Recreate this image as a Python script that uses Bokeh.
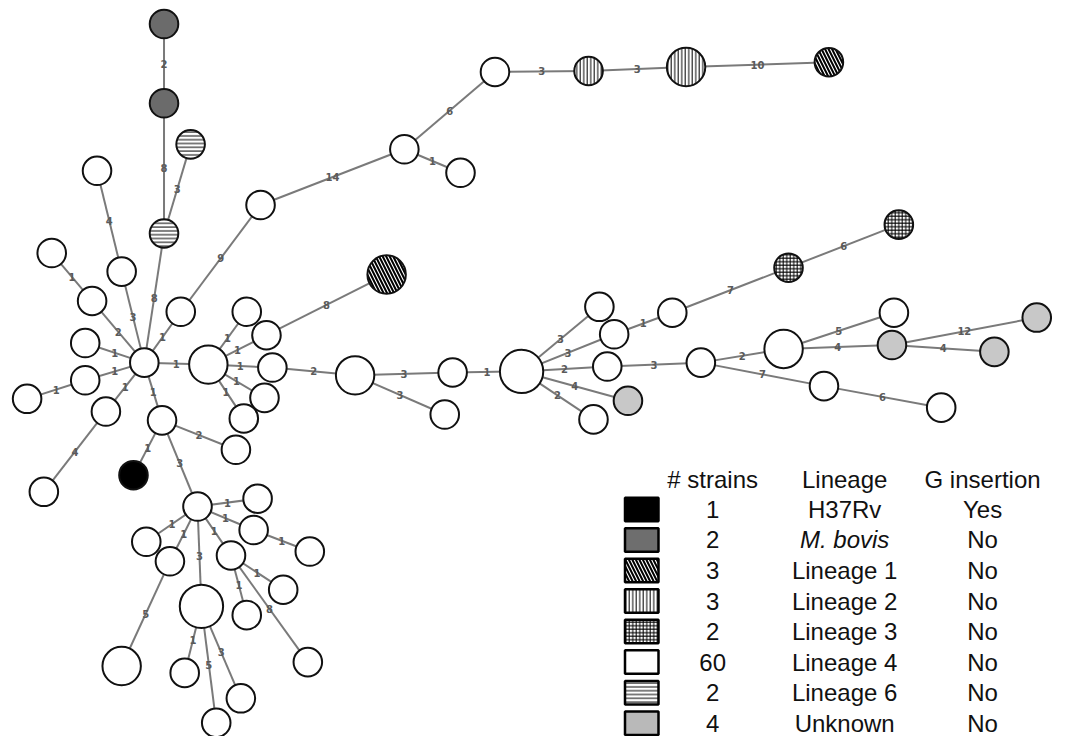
from bokeh.plotting import figure
from bokeh.models import Range1d, ColumnDataSource
from bokeh.core.properties import value
from bokeh.embed import file_html
from bokeh.resources import INLINE

# ---------------- data ----------------
node_names = ["bov1", "bov2", "l6a", "l6b", "hub", "a1", "a2", "b1", "b2", "d",
              "e1", "e2", "g1", "g2", "j", "k", "l", "m", "n", "o",
              "p", "q", "r", "s", "t", "v", "w1", "w2", "w3", "w4",
              "w5", "x", "y", "z", "aa", "bb", "cc", "dd", "ee", "ff",
              "gg", "hh", "ii", "jj", "kk", "ll", "mm", "nn", "oo", "pp",
              "qq", "rr", "u", "u1", "u2", "u3", "u4", "u5", "u6", "u7",
              "u8", "u9", "u10", "u11", "u12", "u13", "u14"]
node_x = [166, 166, 193, 166, 146, 98, 123, 52, 93, 86,
          86, 27, 107, 44, 183, 264, 410, 467, 502, 597,
          696, 841, 164, 239, 135, 211, 250, 270, 276, 268,
          247, 392, 360, 459, 451, 529, 608, 623, 616, 637,
          602, 682, 800, 912, 711, 795, 836, 955, 907, 905,
          1052, 1009, 200, 261, 257, 314, 148, 172, 204, 234,
          123, 187, 219, 244, 287, 250, 312]
node_y = [24, 105, 147, 238, 370, 174, 277, 258, 307, 350,
          388, 407, 420, 502, 318, 209, 152, 176, 73, 72,
          68, 63, 429, 459, 485, 372, 318, 342, 375, 406,
          427, 280, 383, 380, 423, 379, 313, 341, 374, 409,
          428, 319, 273, 229, 370, 356, 394, 416, 319, 352,
          324, 359, 517, 509, 541, 563, 553, 573, 619, 567,
          680, 687, 738, 713, 602, 628, 676]
node_strains = [1, 1, 1, 1, 1, 1, 1, 1, 1, 1,
                1, 1, 1, 1, 1, 1, 1, 1, 1, 1,
                2, 1, 1, 1, 1, 2, 1, 1, 1, 1,
                1, 2, 2, 1, 1, 3, 1, 1, 1, 1,
                1, 1, 1, 1, 1, 2, 1, 1, 1, 1,
                1, 1, 1, 1, 1, 1, 1, 1, 3, 1,
                2, 1, 1, 1, 1, 1, 1]
node_lineage = ["M. bovis", "M. bovis", "Lineage 6", "Lineage 6", "Lineage 4",
                "Lineage 4", "Lineage 4", "Lineage 4", "Lineage 4", "Lineage 4",
                "Lineage 4", "Lineage 4", "Lineage 4", "Lineage 4", "Lineage 4",
                "Lineage 4", "Lineage 4", "Lineage 4", "Lineage 4", "Lineage 2",
                "Lineage 2", "Lineage 1", "Lineage 4", "Lineage 4", "H37Rv",
                "Lineage 4", "Lineage 4", "Lineage 4", "Lineage 4", "Lineage 4",
                "Lineage 4", "Lineage 1", "Lineage 4", "Lineage 4", "Lineage 4",
                "Lineage 4", "Lineage 4", "Lineage 4", "Lineage 4", "Unknown",
                "Lineage 4", "Lineage 4", "Lineage 3", "Lineage 3", "Lineage 4",
                "Lineage 4", "Lineage 4", "Lineage 4", "Lineage 4", "Unknown",
                "Unknown", "Unknown", "Lineage 4", "Lineage 4", "Lineage 4",
                "Lineage 4", "Lineage 4", "Lineage 4", "Lineage 4", "Lineage 4",
                "Lineage 4", "Lineage 4", "Lineage 4", "Lineage 4", "Lineage 4",
                "Lineage 4", "Lineage 4"]

edge_from = ["bov1", "bov2", "l6a", "l6b", "a1", "a2", "b1", "b2", "d", "e1",
             "e2", "g1", "g2", "j", "j", "k", "l", "l", "n", "o",
             "p", "hub", "r", "r", "r", "hub", "v", "v", "v", "v",
             "v", "w2", "w3", "y", "y", "z", "bb", "bb", "bb", "bb",
             "bb", "dd", "hh", "ii", "ee", "kk", "kk", "mm", "ll", "ll",
             "pp", "pp", "u", "u", "u2", "u", "u", "u", "u", "u5",
             "u6", "u6", "u6", "u7", "u7", "u7"]
edge_to = ["bov2", "l6b", "l6b", "hub", "a2", "hub", "b2", "hub", "hub", "hub",
           "e1", "hub", "g1", "hub", "k", "l", "m", "n", "o", "p",
           "q", "r", "s", "t", "u", "v", "w1", "w2", "w3", "w4",
           "w5", "x", "y", "z", "aa", "bb", "cc", "dd", "ee", "ff",
           "gg", "hh", "ii", "jj", "kk", "ll", "mm", "nn", "oo", "pp",
           "qq", "rr", "u1", "u2", "u3", "u4", "u5", "u6", "u7", "u8",
           "u9", "u10", "u11", "u12", "u13", "u14"]
edge_dist = [2, 8, 3, 8, 4, 3, 1, 2, 1, 1,
             1, 1, 4, 1, 9, 14, 1, 6, 3, 3,
             10, 1, 2, 1, 3, 1, 1, 1, 1, 1,
             1, 8, 2, 3, 3, 1, 3, 3, 2, 4,
             2, 1, 7, 6, 3, 2, 7, 6, 5, 4,
             12, 4, 1, 1, 1, 1, 1, 3, 1, 5,
             1, 5, 3, 1, 1, 8]

legend_strains = ["1", "2", "3", "3", "2", "60", "2", "4"]
legend_lineage = ["H37Rv", "M. bovis", "Lineage 1", "Lineage 2", "Lineage 3",
                  "Lineage 4", "Lineage 6", "Unknown"]
legend_ginsertion = ["Yes", "No", "No", "No", "No", "No", "No", "No"]
legend_headers = ["# strains", "Lineage", "G insertion"]

# ---------------- styles ----------------
fill_map = {"H37Rv": "#000000", "M. bovis": "#6b6b6b", "Lineage 1": "#ffffff",
            "Lineage 2": "#ffffff", "Lineage 3": "#ffffff", "Lineage 4": "#ffffff",
            "Lineage 6": "#ffffff", "Unknown": "#c8c8c8"}
hatch_map = {"Lineage 1": "\\", "Lineage 2": "|", "Lineage 3": "+", "Lineage 6": "-"}
hatch_scale_map = {"Lineage 1": 7.0, "Lineage 2": 3.5, "Lineage 3": 3.5, "Lineage 6": 3.8}
hatch_weight_map = {"Lineage 1": 2.0, "Lineage 2": 1.0, "Lineage 3": 1.0, "Lineage 6": 1.0}
radius_map = {1: 14.5, 2: 19.5, 3: 22.0}

W, H = 1052, 736
p = figure(width=W, height=H, output_backend="svg", toolbar_location=None,
           x_range=Range1d(0, 1068), y_range=Range1d(752, 0),
           min_border=0)
p.axis.visible = False
p.grid.visible = False
p.outline_line_color = None
p.background_fill_color = "white"

idx = {n: i for i, n in enumerate(node_names)}

# edges
ex0 = [node_x[idx[a]] for a in edge_from]
ey0 = [node_y[idx[a]] for a in edge_from]
ex1 = [node_x[idx[b]] for b in edge_to]
ey1 = [node_y[idx[b]] for b in edge_to]
p.segment(ex0, ey0, ex1, ey1, line_color="#7a7a7a", line_width=2)

# edge labels at midpoints
mx = [(a + b) / 2 for a, b in zip(ex0, ex1)]
my = [(a + b) / 2 for a, b in zip(ey0, ey1)]
p.text(mx, my, text=[str(d) for d in edge_dist], text_align="center",
       text_baseline="middle", text_font=value("DejaVu Sans"),
       text_font_size="10px", text_font_style="bold", text_color="#5a5a5a")

# nodes
src = ColumnDataSource(dict(
    x=node_x, y=node_y,
    r=[radius_map[s] for s in node_strains],
    fill=[fill_map[l] for l in node_lineage],
    hatch=[hatch_map.get(l, " ") for l in node_lineage],
    hscale=[hatch_scale_map.get(l, 6.0) for l in node_lineage],
    hweight=[hatch_weight_map.get(l, 1.0) for l in node_lineage],
))
p.circle("x", "y", radius="r", source=src, fill_color="fill", line_color="#111111",
         line_width=2, hatch_pattern="hatch", hatch_scale="hscale",
         hatch_weight="hweight", hatch_color="black")

# legend table
row0_y = 520
row_step = 31.2
header_y = 489
col_swatch, col_strains, col_lineage, col_g = 651, 723, 857, 997
rows_y = [row0_y + i * row_step for i in range(len(legend_lineage))]
legend_fill = [fill_map[l] if l != "Unknown" else "#b9b9b9" for l in legend_lineage]
legend_fill = [c if l != "M. bovis" else "#6e6e6e" for c, l in zip(legend_fill, legend_lineage)]
lsrc = ColumnDataSource(dict(
    x=[col_swatch] * len(rows_y), y=rows_y, fill=legend_fill,
    hatch=[hatch_map.get(l, " ") for l in legend_lineage],
    hscale=[hatch_scale_map.get(l, 6.0) for l in legend_lineage],
    hweight=[hatch_weight_map.get(l, 1.0) for l in legend_lineage],
))
p.rect("x", "y", width=34, height=24, source=lsrc, fill_color="fill",
       line_color="black", line_width=2.5, hatch_pattern="hatch",
       hatch_scale="hscale", hatch_weight="hweight", hatch_color="black")

font = value("Liberation Sans")
fs = "24px"
p.text([col_strains, col_lineage, col_g], [header_y] * 3, text=legend_headers,
       text_align="center", text_baseline="middle", text_font=font,
       text_font_size=fs, text_color="#111111")
p.text([col_strains] * len(rows_y), rows_y, text=legend_strains, text_align="center",
       text_baseline="middle", text_font=font, text_font_size=fs, text_color="#111111")
p.text([col_lineage] * len(rows_y), rows_y, text=legend_lineage, text_align="center",
       text_baseline="middle", text_font=font, text_font_size=fs, text_color="#111111",
       text_font_style=["italic" if l == "M. bovis" else "normal" for l in legend_lineage])
p.text([col_g] * len(rows_y), rows_y, text=legend_ginsertion, text_align="center",
       text_baseline="middle", text_font=font, text_font_size=fs, text_color="#111111")

open("out.html", "w").write(file_html(p, INLINE))
